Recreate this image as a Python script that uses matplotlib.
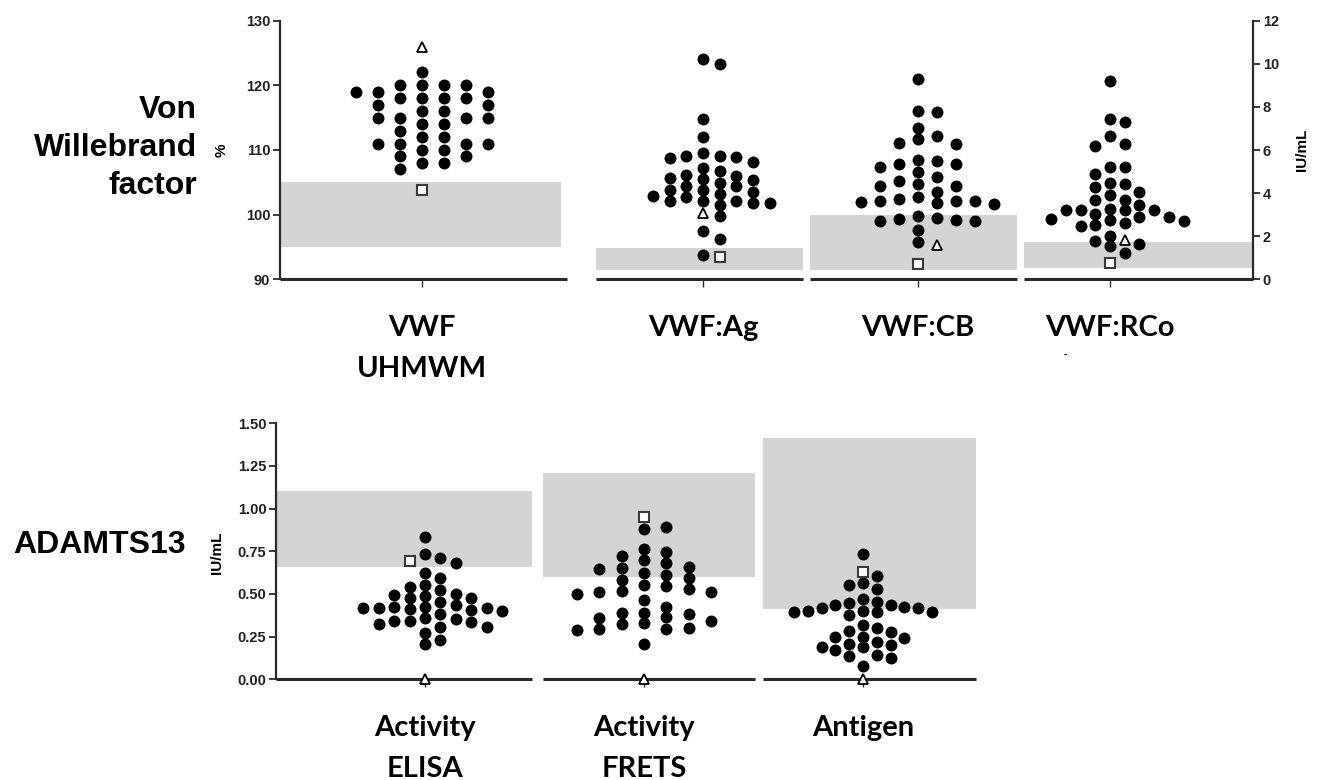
import numpy as np
import matplotlib
matplotlib.use("Agg")
import matplotlib.pyplot as plt

plt.rcParams['font.family'] = ['Liberation Sans', 'DejaVu Sans']
plt.rcParams['font.weight'] = 'bold'

# ---- data ----
top_labels = ["VWF\nUHMWM", "VWF:Ag", "VWF:CB", "VWF:RCo"]
uhmwm = [119, 115, 111, 119, 117, 115, 113, 111, 119, 117, 115, 109, 107,
         122, 120, 118, 115, 112, 110, 108, 120, 118, 116, 114, 112, 110, 108,
         120, 118, 116, 114, 111, 109, 120, 118, 111]
vwf_ag = [10.23, 10.0, 7.43, 6.62, 5.85, 5.74, 5.72, 5.69, 5.61, 5.46, 5.15, 5.03,
          4.85, 4.80, 4.69, 4.64, 4.62, 4.46, 4.31, 4.31, 4.15, 4.15, 4.03, 3.95,
          3.88, 3.80, 3.65, 3.65, 3.62, 3.54, 3.54, 3.46, 2.95, 2.23, 1.85, 1.11]
vwf_cb = [9.31, 7.80, 7.77, 7.03, 6.65, 6.51, 6.31, 6.26, 5.54, 5.49, 5.34, 5.34,
          5.23, 5.00, 4.77, 4.54, 4.41, 4.34, 4.34, 4.03, 3.80, 3.72, 3.65, 3.65,
          3.62, 3.57, 3.54, 3.49, 2.92, 2.84, 2.82, 2.77, 2.72, 2.69, 2.31, 1.74]
vwf_rco = [9.20, 7.46, 7.28, 6.65, 6.28, 6.19, 5.20, 5.20, 4.89, 4.49, 4.41, 4.28,
           4.03, 3.89, 3.69, 3.66, 3.46, 3.28, 3.20, 3.20, 3.20, 3.20, 3.03, 2.89,
           2.88, 2.80, 2.74, 2.72, 2.61, 2.51, 2.49, 2.03, 1.77, 1.66, 1.54, 1.23]
top_tri = [126.0, 3.08, 1.57, 1.81]
top_sq = [103.8, 1.03, 0.72, 0.77]
top_low = [95, 0.45, 0.45, 0.52]
top_high = [105, 1.46, 2.98, 1.75]

bot_labels = ["Activity\nELISA", "Activity\nFRETS", "Antigen"]
elisa = [0.836, 0.732, 0.709, 0.680, 0.625, 0.596, 0.553, 0.543, 0.523, 0.498, 0.494, 0.490,
         0.475, 0.475, 0.455, 0.436, 0.426, 0.426, 0.420, 0.420, 0.416, 0.412, 0.406, 0.400,
         0.381, 0.357, 0.352, 0.342, 0.342, 0.338, 0.324, 0.309, 0.305, 0.270, 0.230, 0.205]
frets = [0.889, 0.881, 0.762, 0.748, 0.719, 0.699, 0.680, 0.660, 0.654, 0.646, 0.625, 0.611,
         0.596, 0.582, 0.553, 0.547, 0.527, 0.518, 0.510, 0.510, 0.498, 0.465, 0.426, 0.391,
         0.387, 0.381, 0.363, 0.357, 0.342, 0.328, 0.324, 0.303, 0.295, 0.293, 0.289, 0.205]
antigen = [0.734, 0.607, 0.562, 0.552, 0.529, 0.468, 0.455, 0.445, 0.435, 0.435, 0.422, 0.416,
           0.416, 0.402, 0.402, 0.396, 0.396, 0.392, 0.377, 0.318, 0.299, 0.285, 0.275, 0.250,
           0.246, 0.244, 0.217, 0.205, 0.201, 0.191, 0.187, 0.172, 0.142, 0.137, 0.127, 0.080]
bot_tri = [0.0, 0.0, 0.0]
bot_sq = [0.693, 0.949, 0.626]
bot_low = [0.66, 0.60, 0.41]
bot_high = [1.10, 1.21, 1.41]

# ---- layout (x in units of 100 px) ----
top_centers = [1.42, 4.23, 6.38, 8.30]
top_seg = [(0, 2.87), (3.16, 5.23), (5.30, 7.37), (7.44, 9.73)]
top_band = [(0, 2.81), (3.16, 5.23), (5.30, 7.37), (7.44, 9.73)]
top_lane = [22, 16.7, 19, 14.7]
bot_centers = [1.49, 3.68, 5.87]
bot_seg = [(0, 2.56), (2.67, 4.79), (4.87, 7.00)]
bot_lane = [15.4, 22.3, 13.8]
GAP = 10.5
AX_COL = '#2a2a2a'
BAND = '#d4d4d4'

W, H = 1319, 780
fig = plt.figure(figsize=(W / 100, H / 100), dpi=100)


def swarm(vals, center, ax, lane_px, gap_px=GAP):
    x0, y0 = ax.transData.transform((0, 0))
    x1, y1 = ax.transData.transform((1, 1))
    sx, sy = x1 - x0, y1 - y0
    vals = np.asarray(vals, float)
    xs = np.zeros(len(vals))
    lanes = {}
    for i in np.argsort(-vals, kind='stable'):
        yp = vals[i] * sy
        for step in range(200):
            k = (step + 1) // 2 * (1 if step % 2 else -1)
            if all(abs(yp - q) >= gap_px for q in lanes.get(k, [])):
                lanes.setdefault(k, []).append(yp)
                xs[i] = center + k * lane_px / sx
                break
    return xs


def draw_group(ax, dots, tri, sq, center, lane_px):
    vals = list(dots) + [tri, sq]
    xs = swarm(vals, center, ax, lane_px)
    n = len(dots)
    ax.plot(xs[:n], vals[:n], 'o', ms=8.6, color='black', mew=0, zorder=4, clip_on=False)
    ax.plot(xs[n], tri, '^', ms=7.5, mfc='white', mec='black', mew=1.3, zorder=5, clip_on=False)
    ax.plot(xs[n + 1], sq, 's', ms=7.2, mfc='white', mec='#3a3a3a', mew=1.5, zorder=5, clip_on=False)


def style_axis(ax, side):
    for s in ['top', 'bottom', 'left', 'right']:
        ax.spines[s].set_visible(s == side)
    ax.spines[side].set_linewidth(1.6)
    ax.spines[side].set_color(AX_COL)
    ax.tick_params(axis='y', length=5, width=1.3, color=AX_COL, labelsize=10.5,
                   labelcolor='#222', pad=2)
    ax.tick_params(axis='x', length=6, width=1.0, color=AX_COL, pad=20)
    ax.patch.set_visible(False)


# ---- top panel ----
ax = fig.add_axes([280 / W, 1 - 279.3 / H, 973 / W, 258.6 / H])
ax.set_xlim(0, 9.73)
ax.set_ylim(90, 130)
ax.set_yticks(np.arange(90, 131, 10))
ax2 = ax.twinx()
ax2.set_ylim(0, 12)
ax2.set_yticks(np.arange(0, 13, 2))
style_axis(ax, 'left')
style_axis(ax2, 'right')

groups_top = [uhmwm, vwf_ag, vwf_cb, vwf_rco]
for i, dots in enumerate(groups_top):
    a = ax if i == 0 else ax2
    a.fill_between(top_band[i], top_low[i], top_high[i], color=BAND, lw=0, zorder=1)
    a.hlines(a.get_ylim()[0], *top_seg[i], color=AX_COL, lw=2.2, clip_on=False, zorder=3)
    draw_group(a, dots, top_tri[i], top_sq[i], top_centers[i], top_lane[i])

ax.set_xticks(top_centers)
ax.set_xticklabels(top_labels, fontfamily='Lato', fontsize=21, fontweight='bold',
                   linespacing=1.7, color='black')

# ---- bottom panel ----
bx = fig.add_axes([276 / W, 1 - 679.3 / H, 700 / W, 256.2 / H])
bx.set_xlim(0, 7.0)
bx.set_ylim(0, 1.5)
bx.set_yticks(np.arange(0, 1.51, 0.25))
bx.set_yticklabels([f"{v:.2f}" for v in np.arange(0, 1.51, 0.25)])
style_axis(bx, 'left')

groups_bot = [elisa, frets, antigen]
for i, dots in enumerate(groups_bot):
    bx.fill_between(bot_seg[i], bot_low[i], bot_high[i], color=BAND, lw=0, zorder=1)
    bx.hlines(0, *bot_seg[i], color=AX_COL, lw=2.2, clip_on=False, zorder=3)
    draw_group(bx, dots, bot_tri[i], bot_sq[i], bot_centers[i], bot_lane[i])

bx.set_xticks(bot_centers)
bx.set_xticklabels(bot_labels, fontfamily='Lato', fontsize=21, fontweight='bold',
                   linespacing=1.7, color='black')

# ---- axis titles and row labels ----
fig.text(222 / W, 1 - 150 / H, '%', rotation=90, ha='center', va='center', fontsize=11)
fig.text(1302 / W, 1 - 150 / H, 'IU/mL', rotation=90, ha='center', va='center', fontsize=11)
fig.text(217 / W, 1 - 553 / H, 'IU/mL', rotation=90, ha='center', va='center', fontsize=11)
fig.text(197 / W, 1 - 148 / H, 'Von\nWillebrand\nfactor', ha='right', va='center',
         multialignment='right', fontsize=23, linespacing=1.36)
fig.text(99 / W, 1 - 545 / H, 'ADAMTS13', ha='center', va='center', fontsize=23)
fig.text(1065 / W, 1 - 355 / H, '-', ha='center', va='center', fontsize=7)

fig.savefig('out.png', dpi=100)
